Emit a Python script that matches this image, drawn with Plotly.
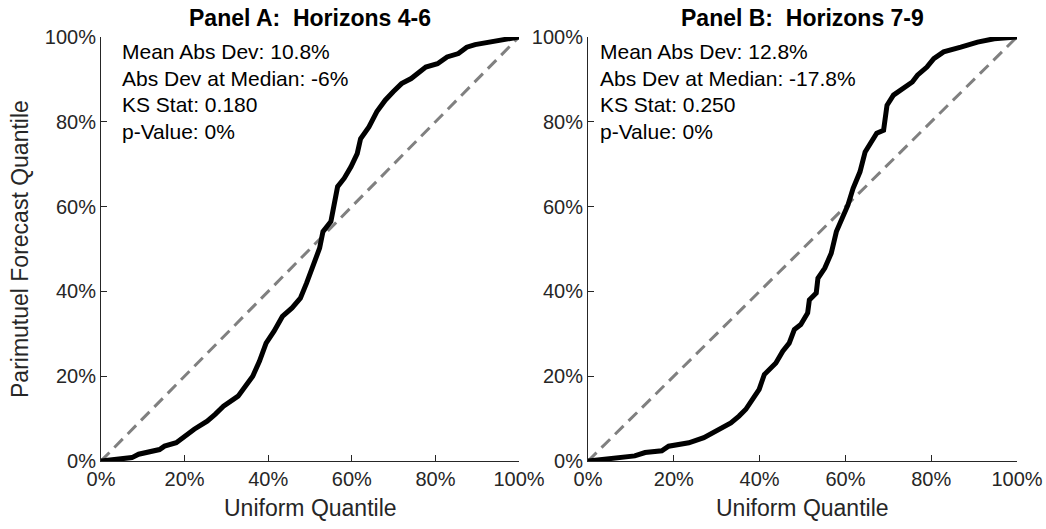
import plotly.graph_objects as go

# Panel A: Horizons 4-6 (uniform quantile vs parimutuel forecast quantile, in %)
a_x = [0, 7.4, 9, 14, 15.2, 18, 22.3, 25.4, 27.3, 29.3, 32.8, 34.4, 36.3, 37.9, 39.5, 41.4,
       43.4, 45.7, 47.7, 49.2, 50.8, 52.3, 53.1, 55, 56.6, 58.2, 59.8, 61.3, 62.1, 64.1,
       66, 68, 69.9, 71.9, 74.2, 76.2, 77.7, 80.5, 82.8, 85.5, 87.5, 89.5, 94.9, 100]
a_y = [0, 0.8, 1.6, 2.7, 3.5, 4.3, 7.5, 9.4, 11, 12.9, 15.3, 17.3, 20, 23.5, 27.8, 30.6,
       34.1, 36.1, 38.4, 42, 46.7, 50.2, 54.1, 56.5, 64.7, 66.7, 69.4, 72.5, 76, 78.8,
       82.4, 85.1, 87.1, 89, 90.2, 91.8, 92.9, 93.7, 95.3, 96.1, 97.6, 98.2, 99.2, 100]

# Panel B: Horizons 7-9
b_x = [0, 4.7, 10.9, 13.3, 17.2, 18.8, 23.5, 27, 30.5, 33.3, 35.2, 36.8, 38.3, 39.9, 41.1,
       43.8, 45.4, 46.9, 48.1, 49.6, 51.2, 51.6, 53.2, 53.6, 55.2, 56.7, 57.9, 59.5, 60.6,
       61.8, 63.4, 64.6, 66.2, 67.3, 68.9, 69.7, 71.2, 73.2, 75.6, 76.8, 79, 80.6, 82.9,
       86.9, 90.8, 94.7, 100]
b_y = [0, 0.4, 1.2, 2, 2.4, 3.5, 4.3, 5.5, 7.5, 9, 10.6, 12.2, 14.5, 16.9, 20.4,
       23.1, 25.9, 27.8, 31, 32.2, 34.9, 38, 39.6, 43.1, 45.5, 49, 54.1, 58, 60.4,
       64.3, 68.2, 72.9, 75.7, 77.3, 78, 83.9, 86.3, 87.8, 89.4, 91, 92.9, 94.9, 96.5,
       97.6, 98.8, 99.6, 100]

diag = [0, 100]
tick_vals = [0, 20, 40, 60, 80, 100]
tick_text = ["0%", "20%", "40%", "60%", "80%", "100%"]

titles = ["Panel A:  Horizons 4-6", "Panel B:  Horizons 7-9"]
stats_a = ["Mean Abs Dev: 10.8%", "Abs Dev at Median: -6%", "KS Stat: 0.180", "p-Value: 0%"]
stats_b = ["Mean Abs Dev: 12.8%", "Abs Dev at Median: -17.8%", "KS Stat: 0.250", "p-Value: 0%"]

W, H = 1046, 529
FONT = "Liberation Sans, Arial, sans-serif"
TXT = "#262626"

dom_a = [101 / W, 519 / W]
dom_b = [588 / W, 1017 / W]
dom_y = [1 - 461 / H, 1 - 37 / H]

fig = go.Figure()
for i, (xs, ys) in enumerate([(a_x, a_y), (b_x, b_y)]):
    xa = "x" if i == 0 else "x2"
    ya = "y" if i == 0 else "y2"
    fig.add_trace(go.Scatter(x=diag, y=diag, mode="lines", xaxis=xa, yaxis=ya,
                             line=dict(color="#808080", width=3, dash="12px,7px"),
                             showlegend=False, hoverinfo="skip"))
    fig.add_trace(go.Scatter(x=xs, y=ys, mode="lines", xaxis=xa, yaxis=ya,
                             line=dict(color="black", width=5),
                             showlegend=False))

axis_common = dict(range=[0, 100], tickvals=tick_vals, ticktext=tick_text,
                   showgrid=False, zeroline=False, showline=True, linecolor=TXT,
                   linewidth=1, ticks="inside", ticklen=6, tickcolor=TXT,
                   tickfont=dict(family=FONT, size=20, color=TXT), fixedrange=True,
                   automargin=False)

fig.update_layout(
    width=W, height=H,
    margin=dict(l=0, r=0, t=0, b=0, pad=0, autoexpand=False),
    paper_bgcolor="white", plot_bgcolor="white",
    xaxis=dict(domain=dom_a, anchor="y", **axis_common),
    yaxis=dict(domain=dom_y, anchor="x", **axis_common),
    xaxis2=dict(domain=dom_b, anchor="y2", **axis_common),
    yaxis2=dict(domain=dom_y, anchor="x2", **axis_common),
)

annos = []
for i, t in enumerate(titles):
    dom = dom_a if i == 0 else dom_b
    annos.append(dict(text="<b>%s</b>" % t, xref="paper", yref="paper",
                      x=(dom[0] + dom[1]) / 2, y=1 - 18 / H, xanchor="center", yanchor="middle",
                      showarrow=False, font=dict(family=FONT, size=23, color="black")))
    annos.append(dict(text="Uniform Quantile", xref="paper", yref="paper",
                      x=(dom[0] + dom[1]) / 2, y=1 - 508 / H, xanchor="center", yanchor="middle",
                      showarrow=False, font=dict(family=FONT, size=23, color=TXT)))

annos.append(dict(text="Parimutuel Forecast Quantile", xref="paper", yref="paper",
                  x=20 / W, y=1 - 249 / H, xanchor="center", yanchor="middle", textangle=-90,
                  showarrow=False, font=dict(family=FONT, size=23, color=TXT)))

line_y = [96.5, 90.3, 84.0, 77.8]
for i, (stats, xr, yr, x0) in enumerate([(stats_a, "x", "y", 4.6), (stats_b, "x2", "y2", 2.3)]):
    for s, yy in zip(stats, line_y):
        annos.append(dict(text=s, xref=xr, yref=yr, x=x0, y=yy, xanchor="left", yanchor="middle",
                          showarrow=False, font=dict(family=FONT, size=21, color="black")))

fig.update_layout(annotations=annos)
fig.write_html("out.html", config={"displayModeBar": False},
               post_script="document.body.style.margin='0px';document.body.style.overflow='hidden';")
